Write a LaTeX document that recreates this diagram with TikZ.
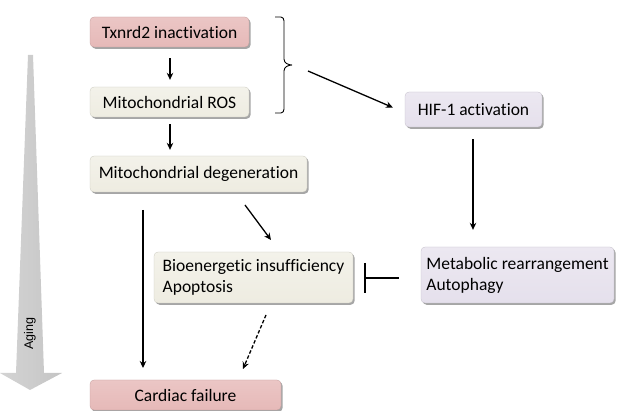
\documentclass[tikz,border=0pt]{standalone}
\usepackage{fontspec}
\setmainfont[Ligatures={NoCommon}]{Carlito}
\newfontfamily\agefont{Liberation Sans}
\usetikzlibrary{arrows.meta,shadows,calc}
\definecolor{pinkbox}{HTML}{E6B9B8}
\definecolor{pinktop}{HTML}{EBC6C5}
\definecolor{beigebox}{HTML}{EEECE1}
\definecolor{beigetop}{HTML}{F3F2EA}
\definecolor{lavbox}{HTML}{E5E0EC}
\definecolor{lavtop}{HTML}{ECE8F1}
\definecolor{agegray}{HTML}{C4C4C4}
\tikzset{
  box/.style={rounded corners=4pt, inner sep=0pt, font=\fontsize{17.5}{21}\selectfont,
     general shadow={fill=gray!70, shadow xshift=1.6pt, shadow yshift=-1.8pt}},
  pinkb/.style={box, top color=pinktop, bottom color=pinkbox, draw=pinkbox!85!black, line width=0.3pt},
  beigeb/.style={box, top color=beigetop, bottom color=beigebox, draw=beigebox!85!black, line width=0.3pt},
  lavb/.style={box, top color=lavtop, bottom color=lavbox, draw=lavbox!85!black, line width=0.3pt},
  arr/.style={line width=1.3pt, -{Stealth[length=7pt,width=6.5pt]}},
  darr/.style={arr, dash pattern=on 3.5pt off 2pt},
}
\begin{document}
\begin{tikzpicture}[x=1pt,y=-1pt]
\useasboundingbox (0,0) rectangle (622,411);
% Aging arrow
\path[left color=agegray!75, right color=agegray, middle color=agegray!85]
  (28,55) -- (33,55) -- (44,373) -- (62,373) -- (30,390) -- (0,373) -- (16,373) -- cycle;
\node[rotate=90, font=\agefont\fontsize{12.5}{15}\selectfont] (aging) at (30,334) {Aging};

\node[pinkb, minimum width=159pt, minimum height=30pt] (tx) at (169.5,32) {Txnrd2 inactivation};
\node[beigeb, minimum width=159pt, minimum height=30pt] (ros) at (169.5,102) {Mitochondrial ROS};
\node[beigeb, minimum width=217pt, minimum height=36pt] (deg) at (198.5,174) {Mitochondrial degeneration};
\node[lavb, minimum width=137pt, minimum height=35pt] (hif) at (473.5,109.5) {HIF-1 activation};
\node[lavb, minimum width=193pt, minimum height=56pt, align=left] (met) at (517.5,275) {Metabolic rearrangement\\Autophagy};
\node[beigeb, minimum width=199pt, minimum height=51pt, align=left] (bio) at (253.5,277.5) {Bioenergetic insufficiency\\Apoptosis};
\node[pinkb, minimum width=191pt, minimum height=30pt] (card) at (185.5,395) {Cardiac failure};

% bracket
\coordinate (brtip) at (292,65);
\draw[line width=0.9pt] (275,17) -- (281,17) to[out=0,in=90] (284,21) -- (284,59) to[out=-90,in=180] (brtip)
  (brtip) to[out=180,in=90] (284,71) -- (284,109) to[out=-90,in=0] (281,113) -- (275,113);

% arrows
\draw[arr, shorten <=11pt, shorten >=7pt] (tx.south -| 170,0) -- (ros.north -| 170,0);
\draw[arr, shorten <=7pt, shorten >=6pt] (ros.south -| 170,0) -- (deg.north -| 170,0);
\coordinate (hs) at (308,71);
\draw[arr] (hs) -- ($(hif.west)+(-12,-2)$);
\draw[arr, shorten <=12pt, shorten >=17pt] (hif.south -| 473,0) -- (met.north -| 473,0);
\coordinate (d1) at (245,205);
\coordinate (d2) at (271,240);
\draw[arr] (d1) -- (d2);
\coordinate (v1) at (143,210);
\coordinate (v2) at (143,368);
\draw[arr] (v1) -- (v2);
\coordinate (e1) at (266,315);
\coordinate (e2) at (243,369);
\draw[darr] (e1) -- (e2);
% inhibition
\coordinate (ib) at (365,278);
\draw[line width=2pt] ($(met.west)+(-22,3)$) -- (ib);
\draw[line width=2.2pt] (365,263) -- (365,293);
\end{tikzpicture}
\end{document}
